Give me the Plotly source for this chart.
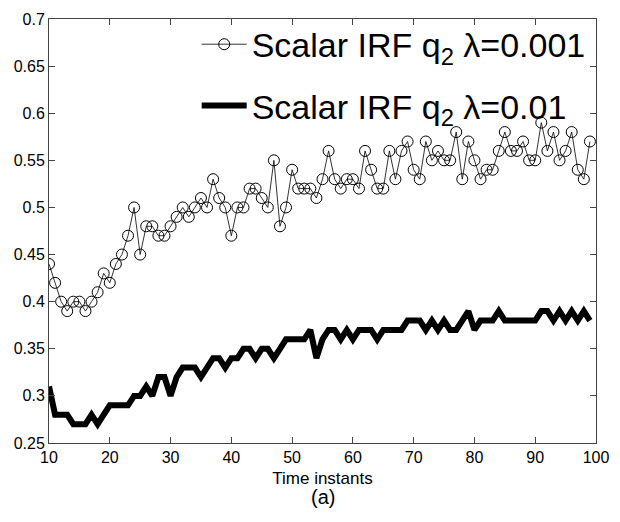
import plotly.graph_objects as go

time_instants = list(range(10, 100))

irf_lambda_0001 = [
    0.44, 0.42, 0.40, 0.39, 0.40, 0.40, 0.39, 0.40, 0.41, 0.43,
    0.42, 0.44, 0.45, 0.47, 0.50, 0.45, 0.48, 0.48, 0.47, 0.47,
    0.48, 0.49, 0.50, 0.49, 0.50, 0.51, 0.50, 0.53, 0.51, 0.50,
    0.47, 0.50, 0.50, 0.52, 0.52, 0.51, 0.50, 0.55, 0.48, 0.50,
    0.54, 0.52, 0.52, 0.52, 0.51, 0.53, 0.56, 0.53, 0.52, 0.53,
    0.53, 0.52, 0.56, 0.54, 0.52, 0.52, 0.56, 0.53, 0.56, 0.57,
    0.54, 0.53, 0.57, 0.55, 0.56, 0.55, 0.55, 0.58, 0.53, 0.57,
    0.55, 0.53, 0.54, 0.54, 0.56, 0.58, 0.56, 0.56, 0.57, 0.55,
    0.55, 0.59, 0.56, 0.58, 0.55, 0.56, 0.58, 0.54, 0.53, 0.57,
]

irf_lambda_001 = [
    0.31, 0.28, 0.28, 0.28, 0.27, 0.27, 0.27, 0.28, 0.27, 0.28,
    0.29, 0.29, 0.29, 0.29, 0.30, 0.30, 0.31, 0.30, 0.32, 0.32,
    0.30, 0.32, 0.33, 0.33, 0.33, 0.32, 0.33, 0.34, 0.34, 0.33,
    0.34, 0.34, 0.35, 0.35, 0.34, 0.35, 0.35, 0.34, 0.35, 0.36,
    0.36, 0.36, 0.36, 0.37, 0.34, 0.36, 0.37, 0.37, 0.36, 0.37,
    0.36, 0.37, 0.37, 0.37, 0.36, 0.37, 0.37, 0.37, 0.37, 0.38,
    0.38, 0.38, 0.37, 0.38, 0.37, 0.38, 0.37, 0.37, 0.38, 0.39,
    0.37, 0.38, 0.38, 0.38, 0.39, 0.38, 0.38, 0.38, 0.38, 0.38,
    0.38, 0.39, 0.39, 0.38, 0.39, 0.38, 0.39, 0.38, 0.39, 0.38,
]

x_ticks = [10, 20, 30, 40, 50, 60, 70, 80, 90, 100]
y_ticks = [0.25, 0.3, 0.35, 0.4, 0.45, 0.5, 0.55, 0.6, 0.65, 0.7]
y_tick_labels = ["0.25", "0.3", "0.35", "0.4", "0.45", "0.5", "0.55", "0.6", "0.65", "0.7"]

FONT = "Liberation Sans, Arial, sans-serif"

fig = go.Figure()
fig.add_trace(go.Scatter(
    x=time_instants, y=irf_lambda_0001, mode="lines+markers",
    name="Scalar IRF q<sub>2</sub> λ=0.001", legendgroup="a",
    line=dict(color="black", width=0.8),
    marker=dict(symbol="circle-open", size=11, color="black", line=dict(width=1)),
))
fig.add_trace(go.Scatter(
    x=time_instants, y=irf_lambda_001, mode="lines",
    name="Scalar IRF q<sub>2</sub> λ=0.01", legendgroup="b",
    line=dict(color="black", width=6),
))

axis_common = dict(
    showline=True, linecolor="#444", linewidth=1, mirror="ticks",
    ticks="inside", ticklen=6, tickcolor="#444", showgrid=False, zeroline=False,
    tickfont=dict(family=FONT, size=16, color="black"),
)
fig.update_xaxes(range=[10, 100], tickvals=x_ticks,
                 title=dict(text="Time instants", font=dict(family=FONT, size=17, color="black"), standoff=6),
                 **axis_common)
fig.update_yaxes(range=[0.25, 0.7], tickvals=y_ticks, ticktext=y_tick_labels, **axis_common)

fig.add_annotation(text="(a)", xref="paper", yref="paper", x=0.5, y=-0.128,
                   showarrow=False, yanchor="middle",
                   font=dict(family=FONT, size=20, color="black"))

fig.update_layout(
    width=620, height=522,
    margin=dict(l=49, r=23, t=11, b=79),
    paper_bgcolor="white", plot_bgcolor="white",
    font=dict(family=FONT, color="black"),
    showlegend=True,
    legend=dict(x=0.27, y=1.008, xanchor="left", yanchor="top",
                bgcolor="rgba(0,0,0,0)", borderwidth=0,
                font=dict(family=FONT, size=34, color="black"),
                traceorder="grouped", tracegroupgap=14, itemwidth=45),
)

fig.write_html("out.html")
